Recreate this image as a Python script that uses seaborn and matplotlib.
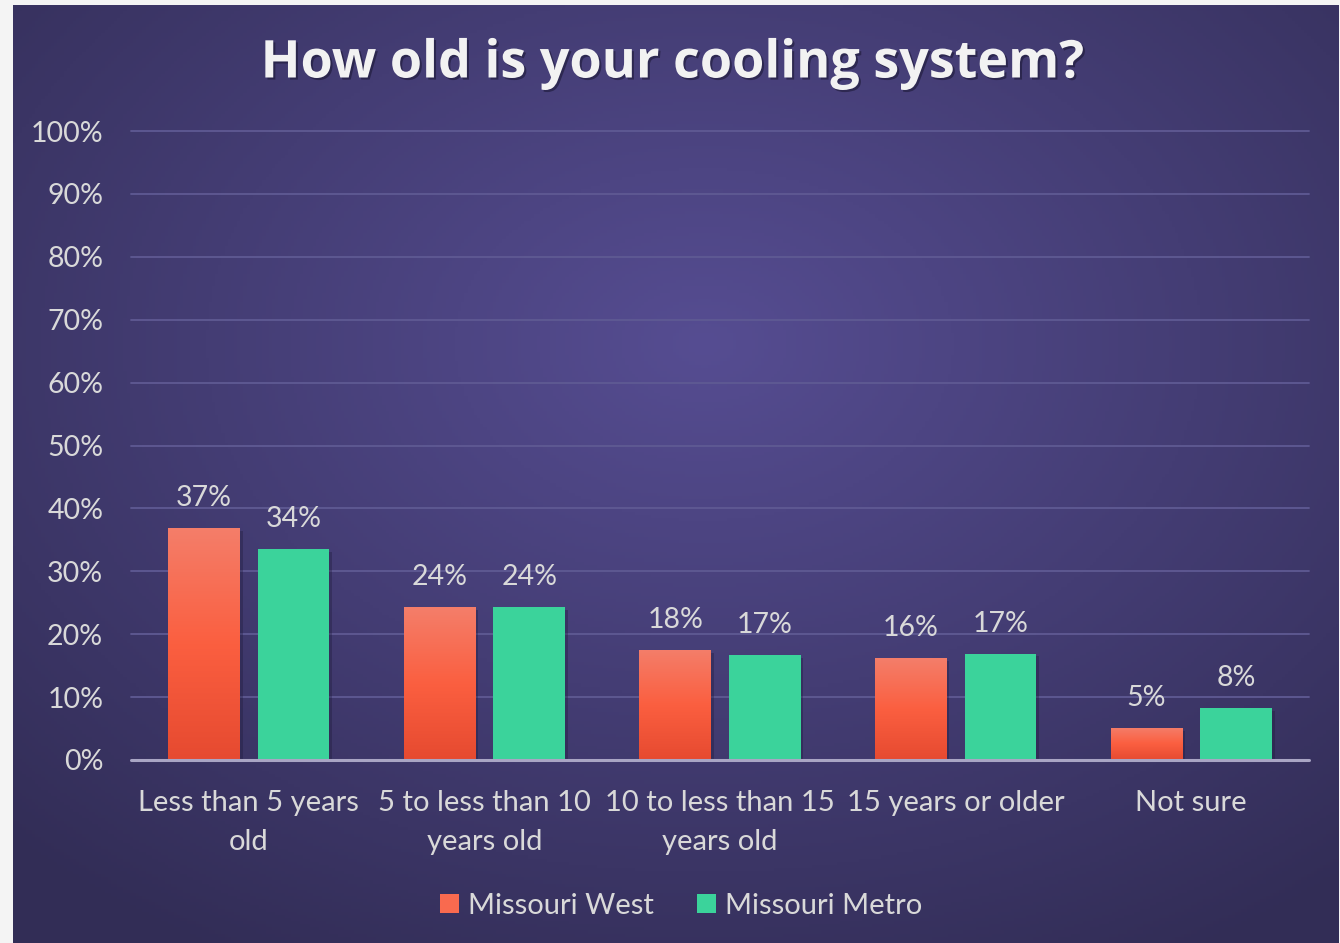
import numpy as np
import pandas as pd
import matplotlib
matplotlib.use("Agg")
import matplotlib.pyplot as plt
import matplotlib.patheffects as pe
import seaborn as sns
from matplotlib.colors import LinearSegmentedColormap
from matplotlib.patches import Patch

categories = ["Less than 5 years\nold", "5 to less than 10\nyears old",
              "10 to less than 15\nyears old", "15 years or older", "Not sure"]
series = ["Missouri West", "Missouri Metro"]
west = [0.369, 0.243, 0.175, 0.162, 0.051]
metro = [0.335, 0.243, 0.167, 0.169, 0.083]
west_labels = ["37%", "24%", "18%", "16%", "5%"]
metro_labels = ["34%", "24%", "17%", "17%", "8%"]
yticks = [0, 0.1, 0.2, 0.3, 0.4, 0.5, 0.6, 0.7, 0.8, 0.9, 1.0]
ytick_labels = ["0%", "10%", "20%", "30%", "40%", "50%", "60%", "70%", "80%", "90%", "100%"]

sns.set_theme(style="white")
plt.rcParams["font.family"] = ["Lato", "DejaVu Sans"]

W, H = 1340, 943
fig = plt.figure(figsize=(W / 100, H / 100), dpi=100, facecolor="#f4f4f4")

# background panel with radial gradient
bg = fig.add_axes([13 / W, 0, (1339 - 13) / W, (H - 5) / H], zorder=-1)
bg.set_axis_off()
ny, nx = 300, 420
yy, xx = np.mgrid[0:ny, 0:nx]
cx, cy = nx * 0.52, ny * 0.36
r = np.sqrt(((xx - cx) / nx) ** 2 + ((yy - cy) / ny) ** 2)
r = np.clip(r / 0.75, 0, 1)
c_in = np.array([86, 77, 146]) / 255
c_out = np.array([50, 45, 86]) / 255
img = c_in[None, None, :] * (1 - r[..., None]) + c_out[None, None, :] * r[..., None]
bg.imshow(img, aspect="auto", extent=(0, 1, 0, 1), origin="upper")
bg.set_xlim(0, 1)
bg.set_ylim(0, 1)

ax = fig.add_axes([131 / W, 1 - 760 / H, (1309 - 131) / W, (760 - 131) / H])
ax.set_facecolor("none")

df = pd.DataFrame({
    "category": categories * 2,
    "series": [series[0]] * len(categories) + [series[1]] * len(categories),
    "value": west + metro,
})
sns.barplot(data=df, x="category", y="value", hue="series", order=categories,
            hue_order=series, palette=["#f96a4f", "#3bd39b"], width=0.76, gap=0.2,
            ax=ax, legend=False, saturation=1, zorder=3, linewidth=0)

# subtle shadow behind bars
for cont in ax.containers:
    for bar in cont:
        bar.set_path_effects([pe.SimplePatchShadow(offset=(2, -2), shadow_rgbFace="#1e1a3a", alpha=0.35), pe.Normal()])

# gradient fill for orange bars
grad = LinearSegmentedColormap.from_list("og", ["#e64a30", "#fb5f40", "#f47e6a"])
gimg = np.linspace(0, 1, 256).reshape(-1, 1)
for bar in ax.containers[0]:
    x, y0 = bar.get_x(), bar.get_y()
    w, h = bar.get_width(), bar.get_height()
    im = ax.imshow(gimg, cmap=grad, aspect="auto", origin="lower",
                   extent=(x, x + w, y0, y0 + h), zorder=3.5)
    im.set_clip_path(bar)
ax.set_aspect("auto")
ax.set_ylim(0, 1.0)
ax.set_xlim(-0.5, len(categories) - 0.5)

# data labels
for cont, labs in zip(ax.containers, [west_labels, metro_labels]):
    for bar, lab in zip(cont, labs):
        ax.annotate(lab, (bar.get_x() + bar.get_width() / 2, bar.get_height()),
                    xytext=(0, 21.5), textcoords="offset points", ha="center", va="center",
                    fontsize=20.5, color="#d9d9d9", zorder=5)

# grid
ax.set_yticks(yticks)
ax.set_yticklabels(ytick_labels)
for t in yticks[1:]:
    ax.axhline(t, color="#5f5a93", lw=1.3, zorder=1, clip_on=False)
ax.axhline(0, color="#a9a5c4", lw=2.2, zorder=4, clip_on=False)
ax.grid(False)
for s in ax.spines.values():
    s.set_visible(False)
ax.tick_params(axis="y", length=0, labelsize=20.5, colors="#d9d9d9", pad=20)
ax.tick_params(axis="x", length=0, labelsize=21, colors="#d9d9d9", pad=21.5)
for lab in ax.get_xticklabels():
    lab.set_linespacing(1.62)
ax.set_xlabel("")
ax.set_ylabel("")

# title
fig.text(0.5 + 3 / W, 1 - 64 / H, "How old is your cooling system?", ha="center", va="center",
         fontsize=37.5, fontweight="bold", color="#f2f2f2",
         family=["Open Sans", "DejaVu Sans"],
         path_effects=[pe.withSimplePatchShadow(offset=(1.5, -1.5), shadow_rgbFace="#15122b", alpha=0.5)])

# legend
handles = [Patch(facecolor="#f96a4f", edgecolor="none"), Patch(facecolor="#3bd39b", edgecolor="none")]
fig.legend(handles, series, loc="center", bbox_to_anchor=(0.5 + 11 / W, 1 - 906 / H), ncol=2,
           frameon=False, fontsize=21, labelcolor="#d9d9d9", handlelength=0.65,
           handleheight=0.65, handletextpad=0.3, columnspacing=1.5)

fig.savefig("out.png", dpi=100, facecolor=fig.get_facecolor())
